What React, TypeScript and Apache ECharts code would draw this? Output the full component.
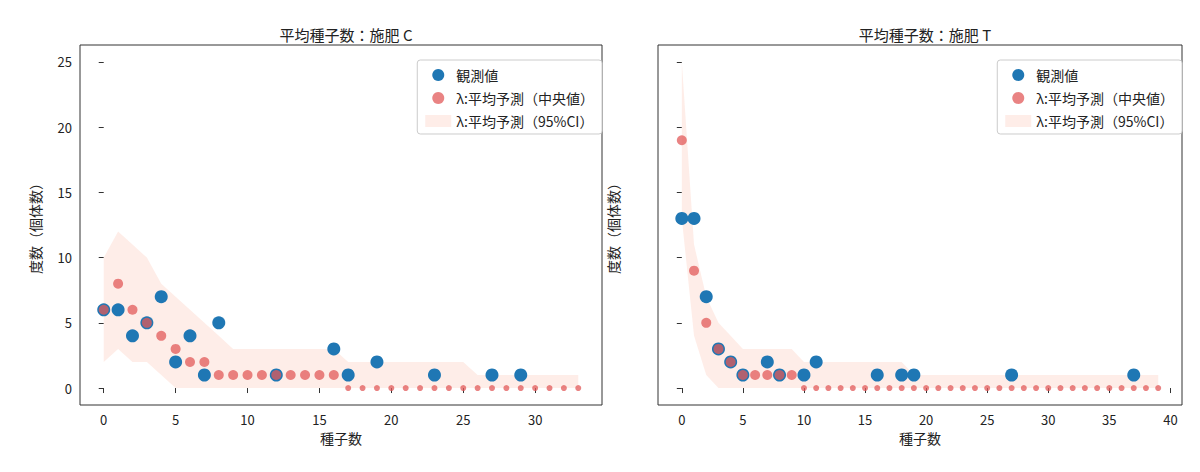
import { useEffect, useRef } from 'react';
import * as echarts from 'echarts';

// 施肥 C
const obsC: number[][] = [[0, 6], [1, 6], [2, 4], [3, 5], [4, 7], [5, 2], [6, 4], [7, 1], [8, 5], [12, 1], [16, 3], [17, 1], [19, 2], [23, 1], [27, 1], [29, 1]];
const medC = [6, 8, 6, 5, 4, 3, 2, 2, 1, 1, 1, 1, 1, 1, 1, 1, 1, 0, 0, 0, 0, 0, 0, 0, 0, 0, 0, 0, 0, 0, 0, 0, 0, 0];
const lowC = [2, 3, 2, 2, 1, 0, 0, 0, 0, 0, 0, 0, 0, 0, 0, 0, 0, 0, 0, 0, 0, 0, 0, 0, 0, 0, 0, 0, 0, 0, 0, 0, 0, 0];
const upC = [10, 12, 11, 10, 8, 7, 6, 5, 4, 3, 3, 3, 3, 3, 3, 3, 3, 2, 2, 2, 2, 2, 2, 2, 2, 2, 1, 1, 1, 1, 1, 1, 1, 1];

// 施肥 T
const obsT: number[][] = [[0, 13], [1, 13], [2, 7], [3, 3], [4, 2], [5, 1], [7, 2], [8, 1], [10, 1], [11, 2], [16, 1], [18, 1], [19, 1], [27, 1], [37, 1]];
const medT = [19, 9, 5, 3, 2, 1, 1, 1, 1, 1, 0, 0, 0, 0, 0, 0, 0, 0, 0, 0, 0, 0, 0, 0, 0, 0, 0, 0, 0, 0, 0, 0, 0, 0, 0, 0, 0, 0, 0, 0];
const lowT = [13, 4, 1, 0, 0, 0, 0, 0, 0, 0, 0, 0, 0, 0, 0, 0, 0, 0, 0, 0, 0, 0, 0, 0, 0, 0, 0, 0, 0, 0, 0, 0, 0, 0, 0, 0, 0, 0, 0, 0];
const upT = [25, 11, 7, 5, 4, 3, 3, 3, 3, 3, 2, 2, 2, 2, 2, 2, 2, 2, 2, 1, 1, 1, 1, 1, 1, 1, 1, 1, 1, 1, 1, 1, 1, 1, 1, 1, 1, 1, 1, 1];

const ticksXC = [0, 5, 10, 15, 20, 25, 30];
const ticksXT = [0, 5, 10, 15, 20, 25, 30, 35, 40];
const ticksY = [0, 5, 10, 15, 20, 25];

const nameObs = '観測値';
const nameMed = 'λ:平均予測（中央値）';
const nameCI = 'λ:平均予測（95%CI）';
const font = '"Noto Sans CJK JP", "DejaVu Sans", sans-serif';
const blue = '#1f77b4';
const pink = 'rgba(225,90,90,0.75)';
const band = 'rgba(252,215,205,0.45)';

const bandSeries = (lo: number[], up: number[], idx: number) => ({
  type: 'custom',
  name: nameCI,
  xAxisIndex: idx,
  yAxisIndex: idx,
  itemStyle: { color: band },
  data: lo.map((v, i) => [i, v, up[i]]),
  renderItem: (params: any, api: any) => {
    if (params.dataIndex !== 0) return null;
    const top = up.map((v, i) => api.coord([i, v]));
    const bot = lo.map((v, i) => api.coord([i, v])).reverse();
    return { type: 'polygon', shape: { points: top.concat(bot) }, style: { fill: band } };
  },
  z: 1,
});

const App = () => {
  const ref = useRef<HTMLDivElement | null>(null);
  useEffect(() => {
    if (!ref.current) return;
    const chart = echarts.init(ref.current, null, { renderer: 'svg' });
    const tick = (vals: number[]) => ({ show: true, customValues: vals, lineStyle: { color: '#333' } });
    const xAxis = (idx: number, min: number, max: number, vals: number[]) => ({
      type: 'value', gridIndex: idx, min, max,
      name: '種子数', nameLocation: 'middle', nameGap: 24,
      nameTextStyle: { fontFamily: font, fontSize: 14, color: '#222' },
      axisLine: { show: false }, axisTick: tick(vals),
      axisLabel: { customValues: vals, fontFamily: font, fontSize: 13, color: '#222' },
      splitLine: { show: false },
    });
    const yAxis = (idx: number, labels: boolean) => ({
      type: 'value', gridIndex: idx, min: -1.3, max: 26.3,
      name: '度数（個体数）', nameLocation: 'middle', nameGap: 38,
      nameTextStyle: { fontFamily: font, fontSize: 14, color: '#222' },
      axisLine: { show: false }, axisTick: tick(ticksY),
      axisLabel: { show: labels, customValues: ticksY, fontFamily: font, fontSize: 13, color: '#222' },
      splitLine: { show: false },
    });
    const legend = (right: number) => ({
      orient: 'vertical', right, top: 52, itemGap: 9, itemWidth: 26, itemHeight: 12,
      backgroundColor: '#fff', borderColor: '#ccc', borderWidth: 1, borderRadius: 3,
      padding: [8, 8, 6, 8],
      textStyle: { fontFamily: font, fontSize: 14, color: '#222' },
      data: [
        { name: nameObs, icon: 'circle' },
        { name: nameMed, icon: 'circle' },
        { name: nameCI, icon: 'rect' },
      ],
    });
    const pts = (obs: number[][], med: number[], lo: number[], up: number[], idx: number) => [
      bandSeries(lo, up, idx),
      {
        type: 'scatter', name: nameObs, xAxisIndex: idx, yAxisIndex: idx,
        data: obs, symbolSize: 13, itemStyle: { color: blue, opacity: 1 }, z: 2,
      },
      {
        type: 'scatter', name: nameMed, xAxisIndex: idx, yAxisIndex: idx,
        data: med.map((v, i) => [i, v]),
        symbolSize: (v: number[]) => (v[1] === 0 ? 6 : 10),
        itemStyle: { color: pink, opacity: 1 }, z: 3,
      },
    ];
    const gridStyle = { show: true, borderColor: '#333', borderWidth: 1, backgroundColor: 'transparent' };
    chart.setOption({
      animation: false,
      title: [
        { text: '平均種子数：施肥 C', left: 333, top: 14, textAlign: 'center', textStyle: { fontFamily: font, fontSize: 15, fontWeight: 'normal', color: '#222' } },
        { text: '平均種子数：施肥 T', left: 912, top: 14, textAlign: 'center', textStyle: { fontFamily: font, fontSize: 15, fontWeight: 'normal', color: '#222' } },
      ],
      legend: [legend(590), legend(10)],
      grid: [
        { left: 72, width: 522, top: 37, height: 360, ...gridStyle },
        { left: 650, width: 524, top: 37, height: 360, ...gridStyle },
      ],
      xAxis: [xAxis(0, -1.65, 34.65, ticksXC), xAxis(1, -1.95, 40.95, ticksXT)],
      yAxis: [yAxis(0, true), yAxis(1, false)],
      series: [
        ...pts(obsC, medC, lowC, upC, 0),
        ...pts(obsT, medT, lowT, upT, 1),
      ],
    });
    return () => chart.dispose();
  }, []);
  return <div ref={ref} style={{ width: 1184, height: 456 }} />;
};

export default App;
